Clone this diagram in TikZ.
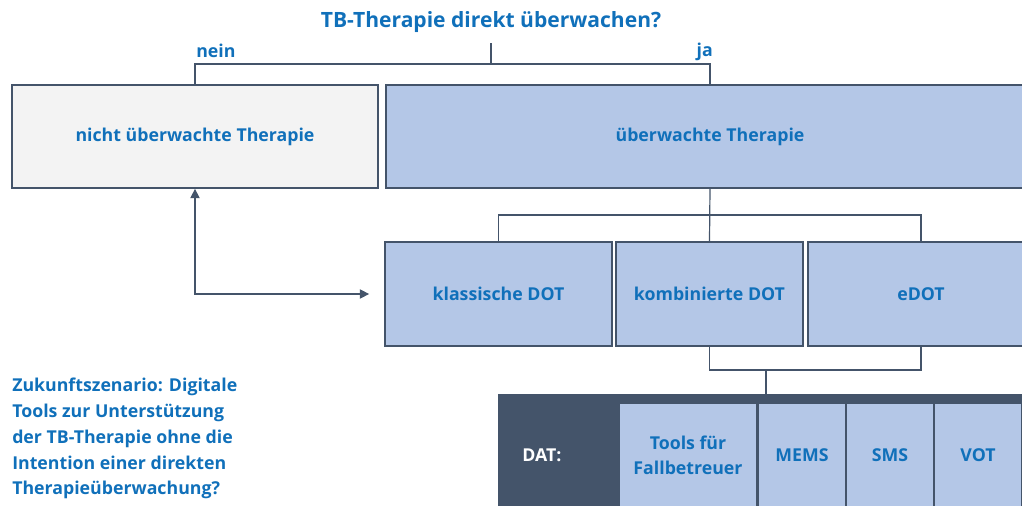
\documentclass[tikz,border=0pt]{standalone}
\usepackage{fontspec}
\setmainfont{Open Sans}
\usepackage{xcolor}
\usepackage{tikz}
\usetikzlibrary{calc}
\usetikzlibrary{arrows.meta,positioning}

\definecolor{tbblue}{RGB}{16,112,186}
\definecolor{slate}{RGB}{68,84,106}
\definecolor{paleblue}{RGB}{180,199,231}
\definecolor{palegray}{RGB}{243,243,243}
\def\px{0.75pt}

\begin{document}
\begin{tikzpicture}[x=0.75pt, y=-0.75pt, >={Triangle[length=7pt,width=7pt]}]
	\useasboundingbox (0,0) rectangle (1022,506);
	% ------------------------------------------------------------------
	% STYLE DEFINITIONS
	% ------------------------------------------------------------------
	\tikzset{
		box/.style   = {draw=slate, line width=1.3pt, fill=paleblue, inner sep=0pt,
		                text=tbblue, font=\bfseries\fontsize{13.3}{18}\selectfont, align=center},
		tool/.style  = {fill=paleblue, inner sep=0pt, text=tbblue,
		                font=\bfseries\fontsize{13.3}{18.8}\selectfont, align=center,
		                minimum height=102*\px},
		conn/.style  = {draw=slate, line width=0.9pt},
		lbl/.style   = {text=tbblue, font=\bfseries\fontsize{13.3}{15}\selectfont, inner sep=0pt}
	}
	
	% --- Question and first split ---
	\node[text=tbblue, font=\bfseries\fontsize{15.8}{18}\selectfont, inner sep=0pt] (frage) at (491,22) {TB-Therapie direkt überwachen?};
	\node[box, fill=palegray, minimum width=366*\px, minimum height=103*\px] (nicht) at (195,136.5) {nicht überwachte Therapie};
	\node[box, minimum width=648*\px, minimum height=103*\px] (ueber) at (710,136.5) {überwachte Therapie};
	\coordinate (split) at (491,64);
	\draw[conn, shorten <=8pt] (frage.south) -- (split);
	\draw[conn] (nicht.north) |- (split) -| (ueber.north);
	\node[lbl, anchor=base west] (nein) at (196,58) {nein};
	\node[lbl, anchor=base east] (ja) at (713,57) {ja};
	
	% --- DOT variants ---
	\node[box, minimum width=227*\px, minimum height=104*\px] (klass) at (498.5,294) {klassische DOT};
	\node[box, minimum width=187*\px, minimum height=104*\px] (kombi) at (709.5,294) {kombinierte DOT};
	\node[box, minimum width=226*\px, minimum height=104*\px] (edot) at (921,294) {eDOT};
	\coordinate (split2) at (710,215);
	\draw[conn] (ueber.south) -- (kombi.north);
	\draw[conn] (klass.north) |- (split2) -| (edot.north);
	
	% feedback arrow
	\draw[conn, <->] (nicht.south) |- ([xshift=-15*\px]klass.west);
	
	% --- DAT block ---
	\node[fill=slate, inner sep=0pt, minimum width=536*\px, minimum height=112*\px] (dat) at (766,450) {};
	\node[anchor=west, text=white, font=\bfseries\fontsize{13.3}{15}\selectfont, inner sep=0pt] (datlbl) at (522,455) {DAT:};
	\node[tool, minimum width=136*\px] (fall) at (688,455) {Tools für\\Fallbetreuer};
	\node[tool, minimum width=86*\px] (mems) at (802,455) {MEMS};
	\node[tool, minimum width=86*\px] (sms) at (890,455) {SMS};
	\node[tool, minimum width=86*\px] (vot) at (978,455) {VOT};
	\coordinate (split3) at (766,370);
	\draw[conn] (kombi.south) |- (split3) -| (edot.south);
	\draw[conn] (split3) -- (dat.north);
	
	% --- scenario question ---
	\node[lbl, anchor=north west, align=left, font=\bfseries\fontsize{13.3}{19.3}\selectfont] (zukunft) at (12,378)
		{Zukunftszenario: Digitale\\Tools zur Unterstützung\\der TB-Therapie ohne die\\Intention einer direkten\\Therapieüberwachung?};
	
\end{tikzpicture}
\end{document}
